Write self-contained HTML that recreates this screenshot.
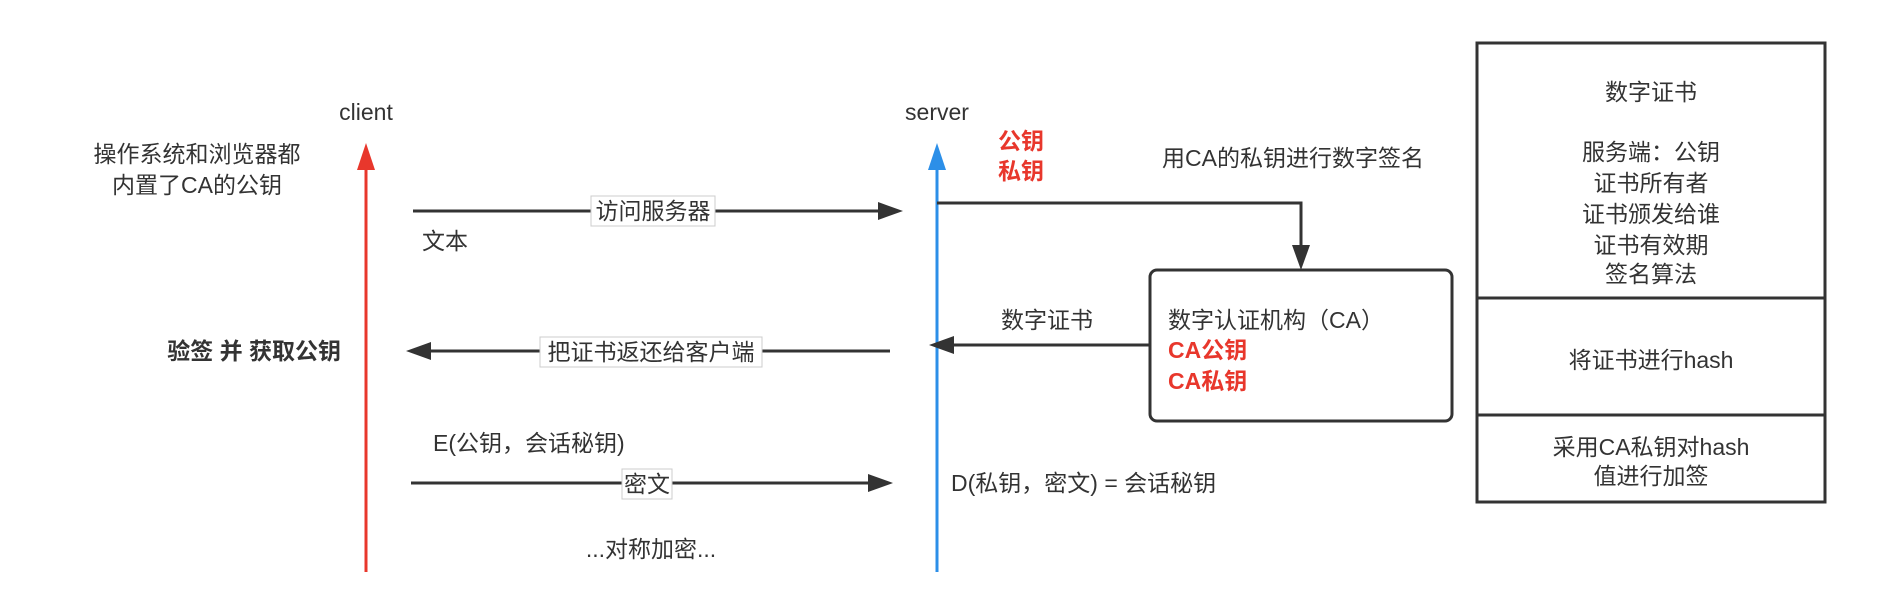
<!DOCTYPE html>
<html><head><meta charset="utf-8"><style>
body{margin:0;background:#fff;}
svg text{font-family:"Liberation Sans","Noto Sans CJK SC",sans-serif;font-size:23px;fill:#333;}
.r{fill:#e8372c !important;font-weight:bold;}
.b{font-weight:bold;}
</style></head><body>
<svg width="1901" height="604" viewBox="0 0 1901 604" xmlns="http://www.w3.org/2000/svg">
<defs>
<marker id="ah" markerWidth="10" markerHeight="10" refX="9" refY="5" orient="auto" markerUnits="userSpaceOnUse" viewBox="0 0 10 10"><path d="M0,0 L10,5 L0,10 z" fill="#333"/></marker>
</defs>
<!-- lifelines -->
<line x1="366" y1="572" x2="366" y2="168" stroke="#e8372c" stroke-width="3"/>
<path d="M366,143 L357,170 L375,170 z" fill="#e8372c"/>
<line x1="937" y1="572" x2="937" y2="168" stroke="#2c8fe8" stroke-width="3"/>
<path d="M937,143 L928,170 L946,170 z" fill="#2c8fe8"/>
<text x="366" y="120" text-anchor="middle">client</text>
<text x="937" y="120" text-anchor="middle">server</text>
<text x="998" y="149" class="r">公钥</text>
<text x="998" y="179" class="r">私钥</text>
<text x="197" y="162" text-anchor="middle">操作系统和浏览器都</text>
<text x="197" y="193" text-anchor="middle">内置了CA的公钥</text>
<!-- arrow1 -->
<line x1="413" y1="211" x2="880" y2="211" stroke="#333" stroke-width="3"/>
<path d="M903,211 L878,202 L878,220 z" fill="#333"/>
<rect x="591" y="196" width="124" height="30" fill="#fff" stroke="#ccc"/>
<text x="653" y="219" text-anchor="middle">访问服务器</text>
<text x="422" y="249">文本</text>
<!-- arrow2 -->
<line x1="890" y1="351" x2="428" y2="351" stroke="#333" stroke-width="3"/>
<path d="M406,351 L431,342 L431,360 z" fill="#333"/>
<rect x="540" y="337" width="222" height="30" fill="#fff" stroke="#ccc"/>
<text x="651" y="360" text-anchor="middle">把证书返还给客户端</text>
<text x="341" y="359" text-anchor="end" class="b">验签 并 获取公钥</text>
<text x="433" y="451">E(公钥，会话秘钥)</text>
<!-- arrow3 -->
<line x1="411" y1="483" x2="870" y2="483" stroke="#333" stroke-width="3"/>
<path d="M893,483 L868,474 L868,492 z" fill="#333"/>
<rect x="622" y="469" width="50" height="30" fill="#fff" stroke="#ccc"/>
<text x="647" y="492" text-anchor="middle">密文</text>
<text x="651" y="557" text-anchor="middle">...对称加密...</text>
<!-- right side -->
<text x="1162" y="166">用CA的私钥进行数字签名</text>
<polyline points="937,203 1301,203 1301,248" fill="none" stroke="#333" stroke-width="3"/>
<path d="M1301,270 L1292,245 L1310,245 z" fill="#333"/>
<rect x="1150" y="270" width="302" height="151" rx="7" fill="#fff" stroke="#333" stroke-width="3"/>
<text x="1168" y="328">数字认证机构（CA）</text>
<text x="1168" y="358" class="r">CA公钥</text>
<text x="1168" y="389" class="r">CA私钥</text>
<line x1="1150" y1="345" x2="950" y2="345" stroke="#333" stroke-width="3"/>
<path d="M929,345 L954,336 L954,354 z" fill="#333"/>
<text x="1047" y="328" text-anchor="middle">数字证书</text>
<text x="951" y="491">D(私钥，密文) = 会话秘钥</text>
<!-- table -->
<rect x="1477" y="43" width="348" height="459" fill="#fff" stroke="#333" stroke-width="3"/>
<line x1="1477" y1="298" x2="1825" y2="298" stroke="#333" stroke-width="3"/>
<line x1="1477" y1="415" x2="1825" y2="415" stroke="#333" stroke-width="3"/>
<g text-anchor="middle">
<text x="1651" y="100">数字证书</text>
<text x="1651" y="160">服务端：公钥</text>
<text x="1651" y="191">证书所有者</text>
<text x="1651" y="222">证书颁发给谁</text>
<text x="1651" y="253">证书有效期</text>
<text x="1651" y="282">签名算法</text>
<text x="1651" y="368">将证书进行hash</text>
<text x="1651" y="455">采用CA私钥对hash</text>
<text x="1651" y="484">值进行加签</text>
</g>
</svg>
</body></html>
